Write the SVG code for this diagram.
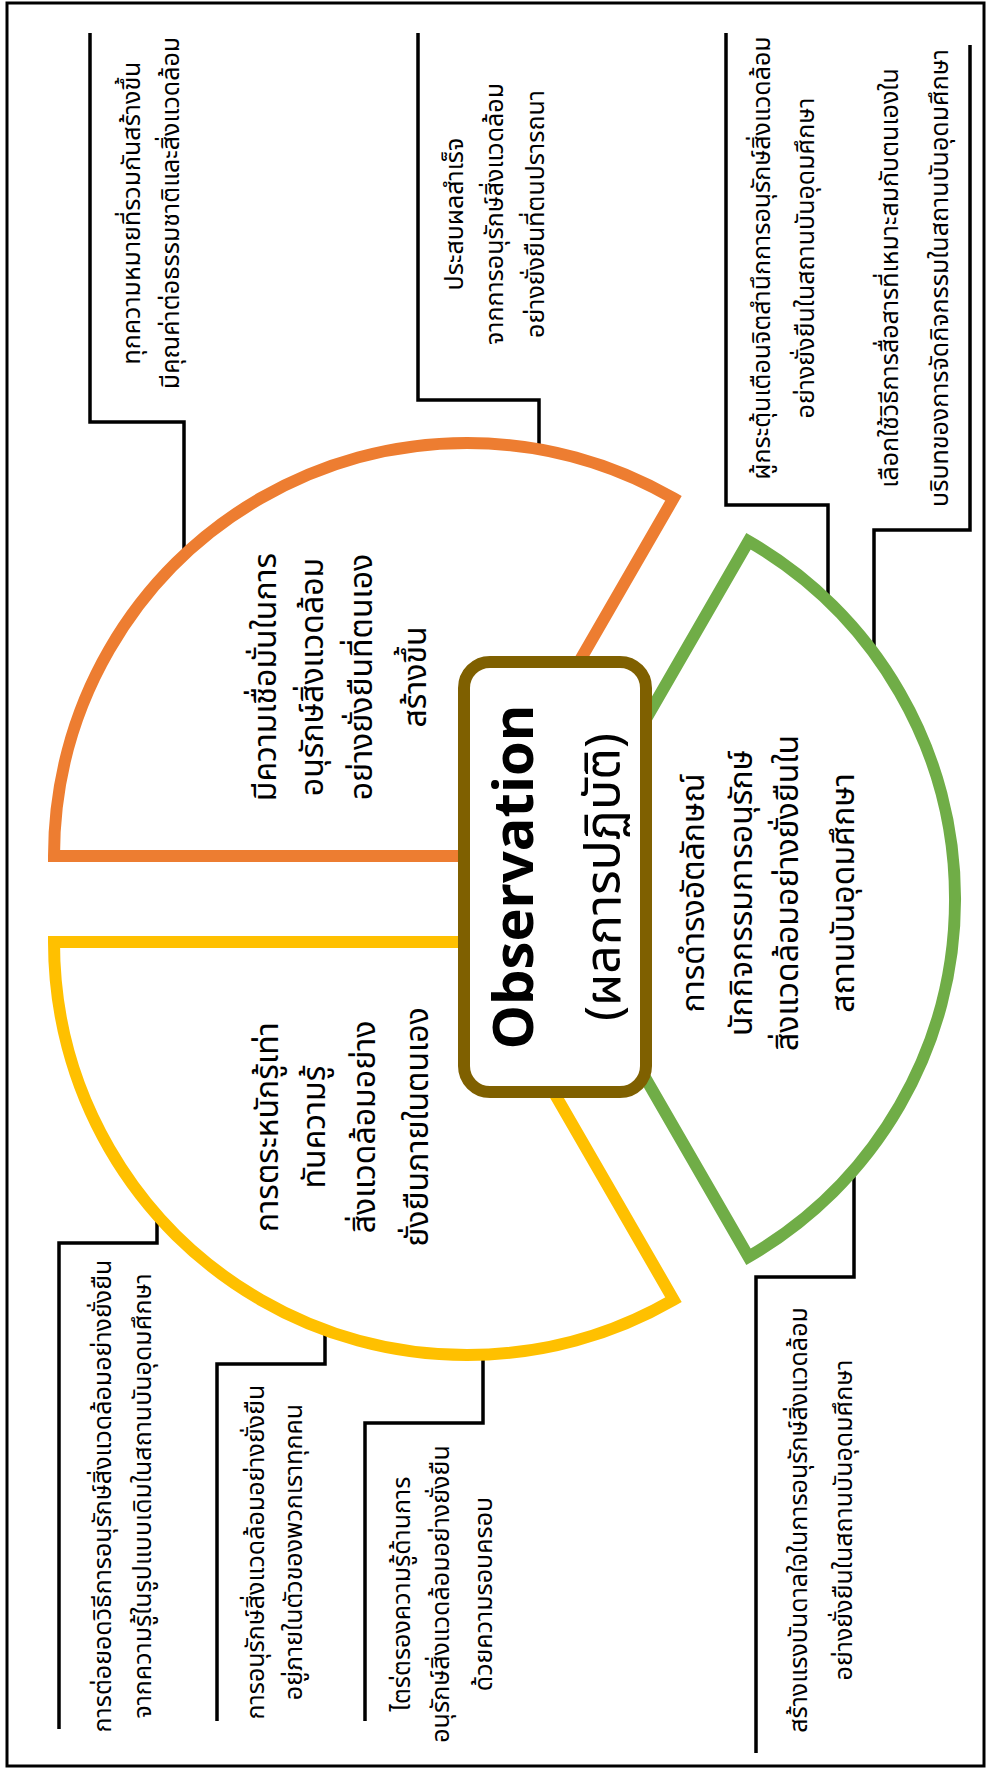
<svg xmlns="http://www.w3.org/2000/svg" width="996" height="1776" viewBox="0 0 996 1776">
<style>
.br{fill:none;stroke:#000;stroke-width:3.5;stroke-linejoin:miter}
.sl{fill:#fff;stroke-width:12;stroke-linejoin:miter;stroke-miterlimit:10}
.t{font-family:'Noto Sans Thai','Noto Sans','Liberation Sans',sans-serif;font-size:25px;fill:#000;text-anchor:middle}
.ts{font-size:32px}
</style>
<rect x="0" y="0" width="996" height="1776" fill="#fff"/>
<rect x="7" y="3" width="977" height="1763" fill="none" stroke="#000" stroke-width="3"/>
<g transform="translate(0,1776) rotate(-90)">
<g id="connectors">
<polyline class="br" points="1743,90 1354,90 1354,184 1215,184"/>
<polyline class="br" points="1743,418 1376,418 1376,539 1318,539"/>
<polyline class="br" points="1743,726 1271,726 1271,828 1165,828"/>
<polyline class="br" points="1731,970 1246,970 1246,874 1110,874"/>
<polyline class="br" points="47,59 533,59 533,157 568,157"/>
<polyline class="br" points="55,217 412,217 412,325 452,325"/>
<polyline class="br" points="55,365 353,365 353,483 428,483"/>
<polyline class="br" points="23,756 499,756 499,854 620,854"/>
</g>
<g id="slice-orange">
<path class="sl" stroke="#ED7D31" d="M920,467 L920,54 A413,413 0 0 1 1277.7,673.5 Z"/>
</g>
<g id="slice-yellow">
<path class="sl" stroke="#FFC000" d="M834,467 L834,54 A413,413 0 0 0 476.3,673.5 Z"/>
</g>
<g id="slice-green">
<path class="sl" stroke="#70AD47" d="M877,542 L1234.7,748.5 A413,413 0 0 1 519.3,748.5 Z"/>
</g>
<g id="center">
<rect x="684" y="464" width="430" height="182" rx="26" fill="#fff" stroke="#7F6000" stroke-width="12"/>
<text class="t" x="899" y="533" style="font-size:56px;font-weight:bold">Observation</text>
<text class="t" x="899" y="620" style="font-size:50px">(ผลการปฏิบัติ)</text>
</g>
<g id="orange-text">
<text class="t ts" x="1099" y="276">มีความเชื่อมั่นในการ</text>
<text class="t ts" x="1099" y="323">อนุรักษ์สิ่งแวดล้อม</text>
<text class="t ts" x="1099" y="372">อย่างยั่งยืนที่ตนเอง</text>
<text class="t ts" x="1099" y="426">สร้างขึ้น</text>
</g>
<g id="yellow-text">
<text class="t ts" x="649" y="278">การตระหนักรู้เท่า</text>
<text class="t ts" x="649" y="325">ทันความรู้</text>
<text class="t ts" x="649" y="375">สิ่งแวดล้อมอย่าง</text>
<text class="t ts" x="649" y="428">ยั่งยืนภายในตนเอง</text>
</g>
<g id="green-text">
<text class="t ts" x="883" y="704">การดำรงอัตลักษณ์</text>
<text class="t ts" x="883" y="752">นักกิจกรรมการอนุรักษ์</text>
<text class="t ts" x="883" y="798">สิ่งแวดล้อมอย่างยั่งยืนใน</text>
<text class="t ts" x="883" y="854">สถานบันอุดมศึกษา</text>
</g>
<g id="note1">
<text class="t" x="1563" y="140">ทุกความหมายที่รวมกันสร้างขึ้น</text>
<text class="t" x="1563" y="179">มีคุณค่าต่อธรรมชาติและสิ่งแวดล้อม</text>
</g>
<g id="note2">
<text class="t" x="1562" y="463">ประสบผลสำเร็จ</text>
<text class="t" x="1562" y="503">จากการอนุรักษ์สิ่งแวดล้อม</text>
<text class="t" x="1562" y="544">อย่างยั่งยืนที่ตนปรารถนา</text>
</g>
<g id="note3">
<text class="t" x="1518" y="770">ผู้กระตุ้นเตือนจิตสำนึกการอนุรักษ์สิ่งแวดล้อม</text>
<text class="t" x="1518" y="814">อย่างยั่งยืนในสถานบันอุดมศึกษา</text>
</g>
<g id="note4">
<text class="t" x="1498" y="898">เลือกใช้วิธีการสื่อสารที่เหมาะสมกับตนเองใน</text>
<text class="t" x="1498" y="948">บริบทของการจัดกิจกรรมในสถานบันอุดมศึกษา</text>
</g>
<g id="note5">
<text class="t" x="280" y="111">การต่อยอดวิธีการอนุรักษ์สิ่งแวดล้อมอย่างยั่งยืน</text>
<text class="t" x="280" y="151">จากความรู้ในรูปแบบเดิมในสถานบันอุดมศึกษา</text>
</g>
<g id="note6">
<text class="t" x="224" y="264">การอนุรักษ์สิ่งแวดล้อมอย่างยั่งยืน</text>
<text class="t" x="224" y="302">อยู่ภายในตัวของพวกเราทุกคน</text>
</g>
<g id="note7">
<text class="t" x="182" y="410">ไตร่ตรองความรู้ด้านการ</text>
<text class="t" x="182" y="449">อนุรักษ์สิ่งแวดล้อมอย่างยั่งยืน</text>
<text class="t" x="182" y="492">ด้วยความรอบครอบ</text>
</g>
<g id="note8">
<text class="t" x="256" y="807">สร้างแรงบันดาลใจในการอนุรักษ์สิ่งแวดล้อม</text>
<text class="t" x="256" y="852">อย่างยั่งยืนในสถานบันอุดมศึกษา</text>
</g>
</g>
</svg>
